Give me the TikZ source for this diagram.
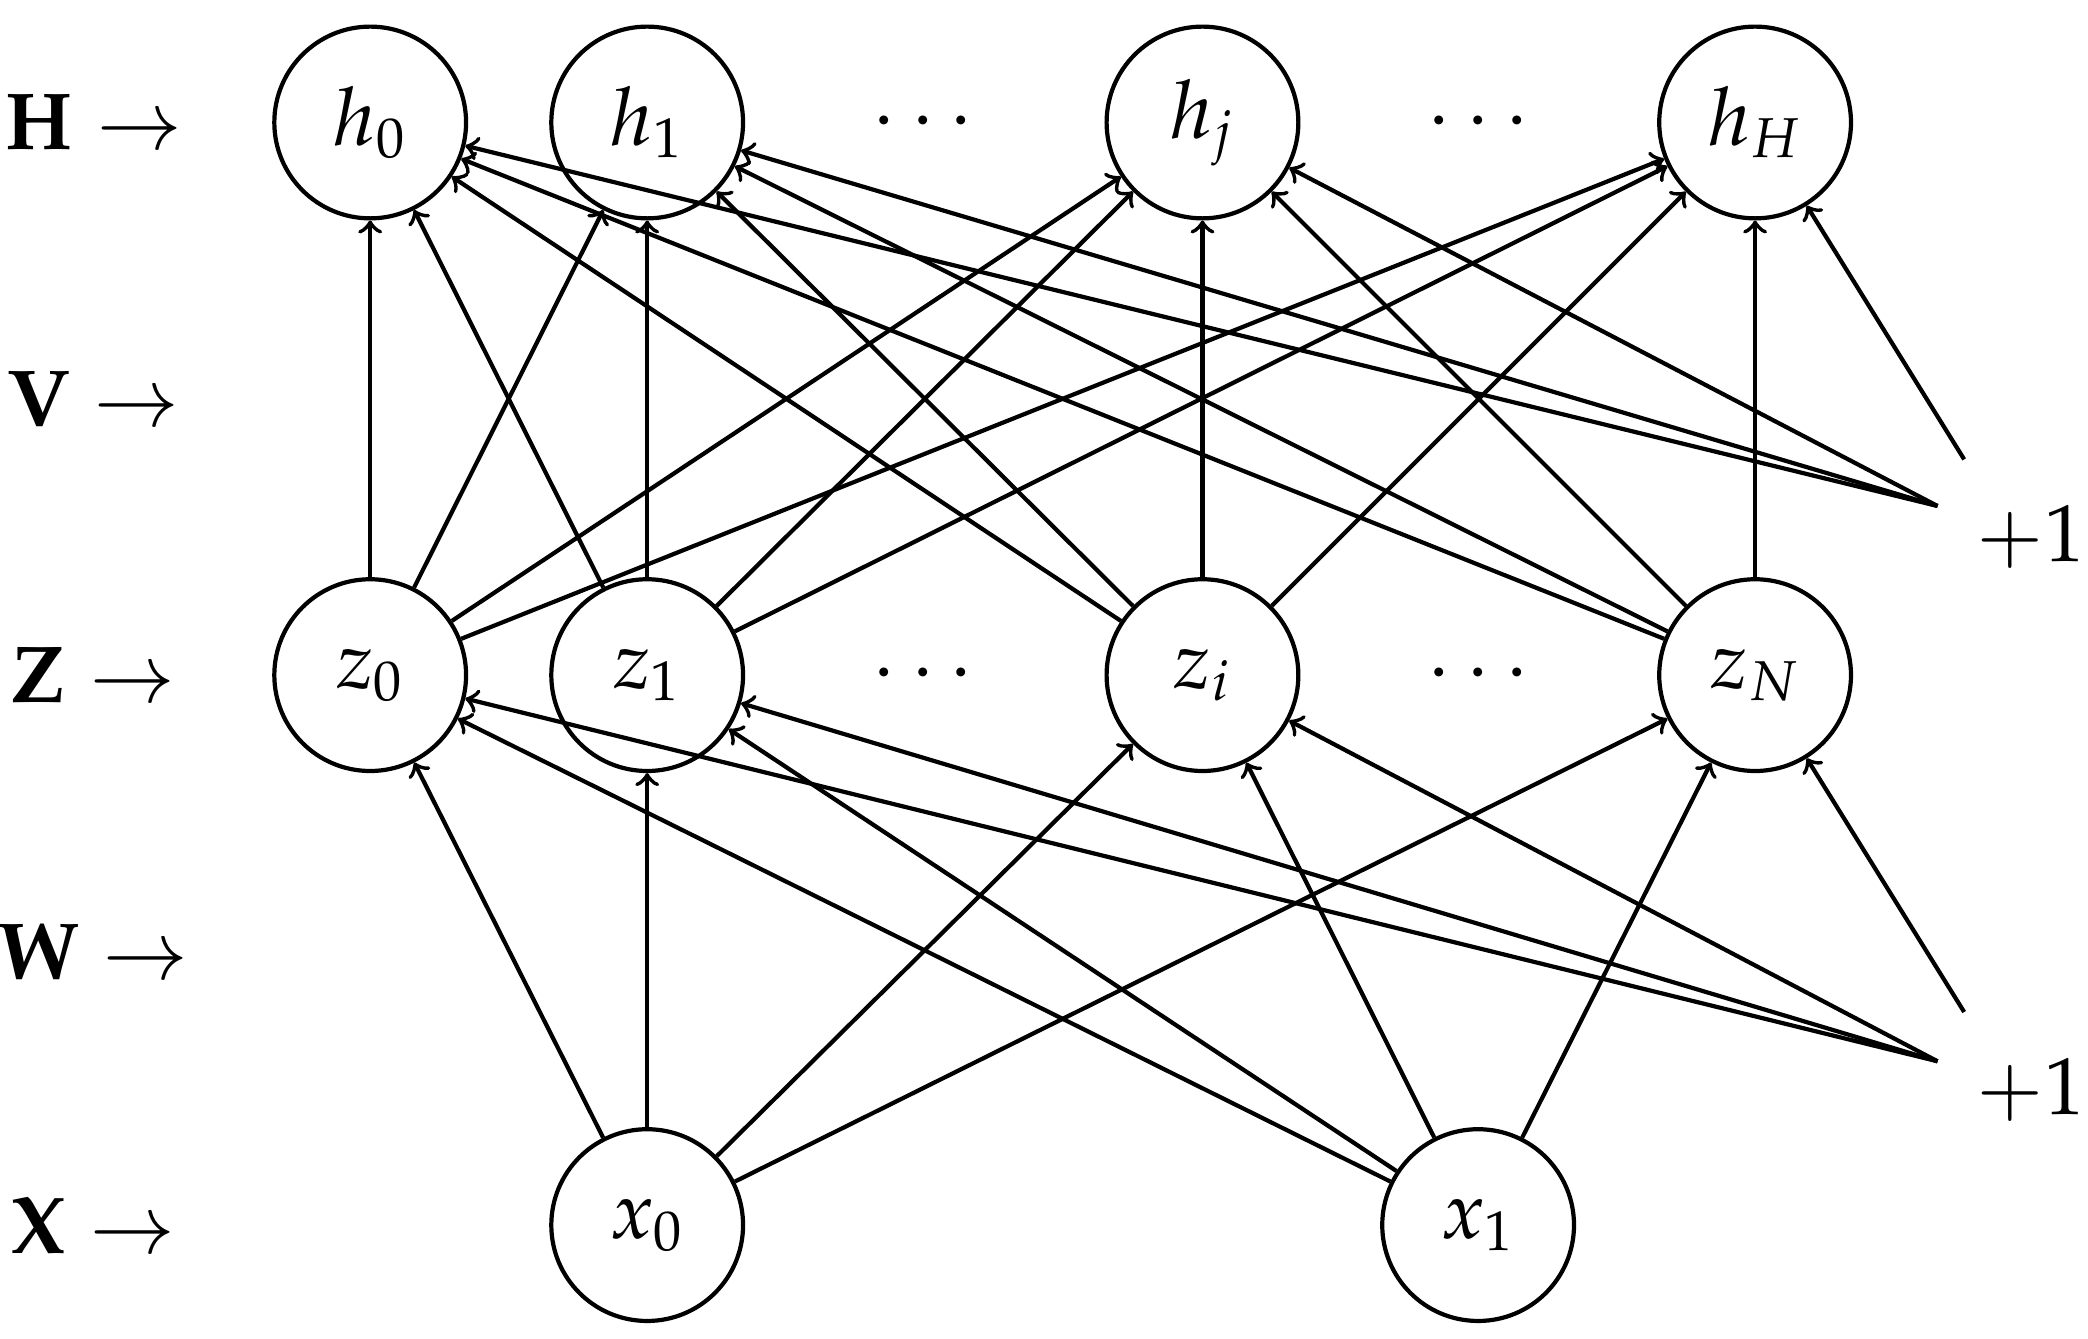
\documentclass[tikz,border=0pt]{standalone}
\usepackage{mathpazo}
\begin{document}
\begin{tikzpicture}[
  neuron/.style={circle,draw,line width=0.9pt,minimum size=1.44cm,inner sep=0pt,font=\LARGE},
  lab/.style={font=\LARGE},
  edge/.style={->,line width=0.9pt}]
\useasboundingbox (0,0) rectangle (15.68,10.05);
\foreach \n/\x/\t in {h0/2.78/h_0,h1/4.86/h_1,hj/9.03/h_j,hH/13.18/h_H}
  \node[neuron] (\n) at (\x,9.13) {$\t$};
\foreach \n/\x/\t in {z0/2.78/z_0,z1/4.86/z_1,zi/9.03/z_i,zN/13.18/z_N}
  \node[neuron] (\n) at (\x,4.98) {$\t$};
\node[neuron] (x0) at (4.86,0.85) {$x_0$};
\node[neuron] (x1) at (11.10,0.85) {$x_1$};
\node[lab] (d1) at (6.93,9.13) {$\cdots$};
\node[lab] (d2) at (11.10,9.13) {$\cdots$};
\node[lab] (d3) at (6.93,4.98) {$\cdots$};
\node[lab] (d4) at (11.10,4.98) {$\cdots$};
\node[lab] (lH) at (0.70,9.13) {$\mathbf{H}\rightarrow$};
\node[lab] (lV) at (0.70,7.05) {$\mathbf{V}\rightarrow$};
\node[lab] (lZ) at (0.70,4.98) {$\mathbf{Z}\rightarrow$};
\node[lab] (lW) at (0.70,2.90) {$\mathbf{W}\rightarrow$};
\node[lab] (lX) at (0.70,0.85) {$\mathbf{X}\rightarrow$};
\node[lab] (p1) at (15.25,6.02) {$+1$};
\node[lab] (p2) at (15.25,1.87) {$+1$};
\coordinate (bt) at (14.55,6.25);
\coordinate (bt2) at (14.75,6.60);
\coordinate (bb) at (14.55,2.08);
\coordinate (bb2) at (14.75,2.45);
\foreach \z in {z0,z1,zi,zN}
  \foreach \h in {h0,h1,hj,hH}
    \draw[edge] (\z) -- (\h);
\foreach \xx in {x0,x1}
  \foreach \z in {z0,z1,zi,zN}
    \draw[edge] (\xx) -- (\z);
\foreach \h in {h0,h1,hj} \draw[edge] (bt) -- (\h);
\draw[edge] (bt2) -- (hH);
\foreach \z in {z0,z1,zi} \draw[edge] (bb) -- (\z);
\draw[edge] (bb2) -- (zN);
\end{tikzpicture}
\end{document}
